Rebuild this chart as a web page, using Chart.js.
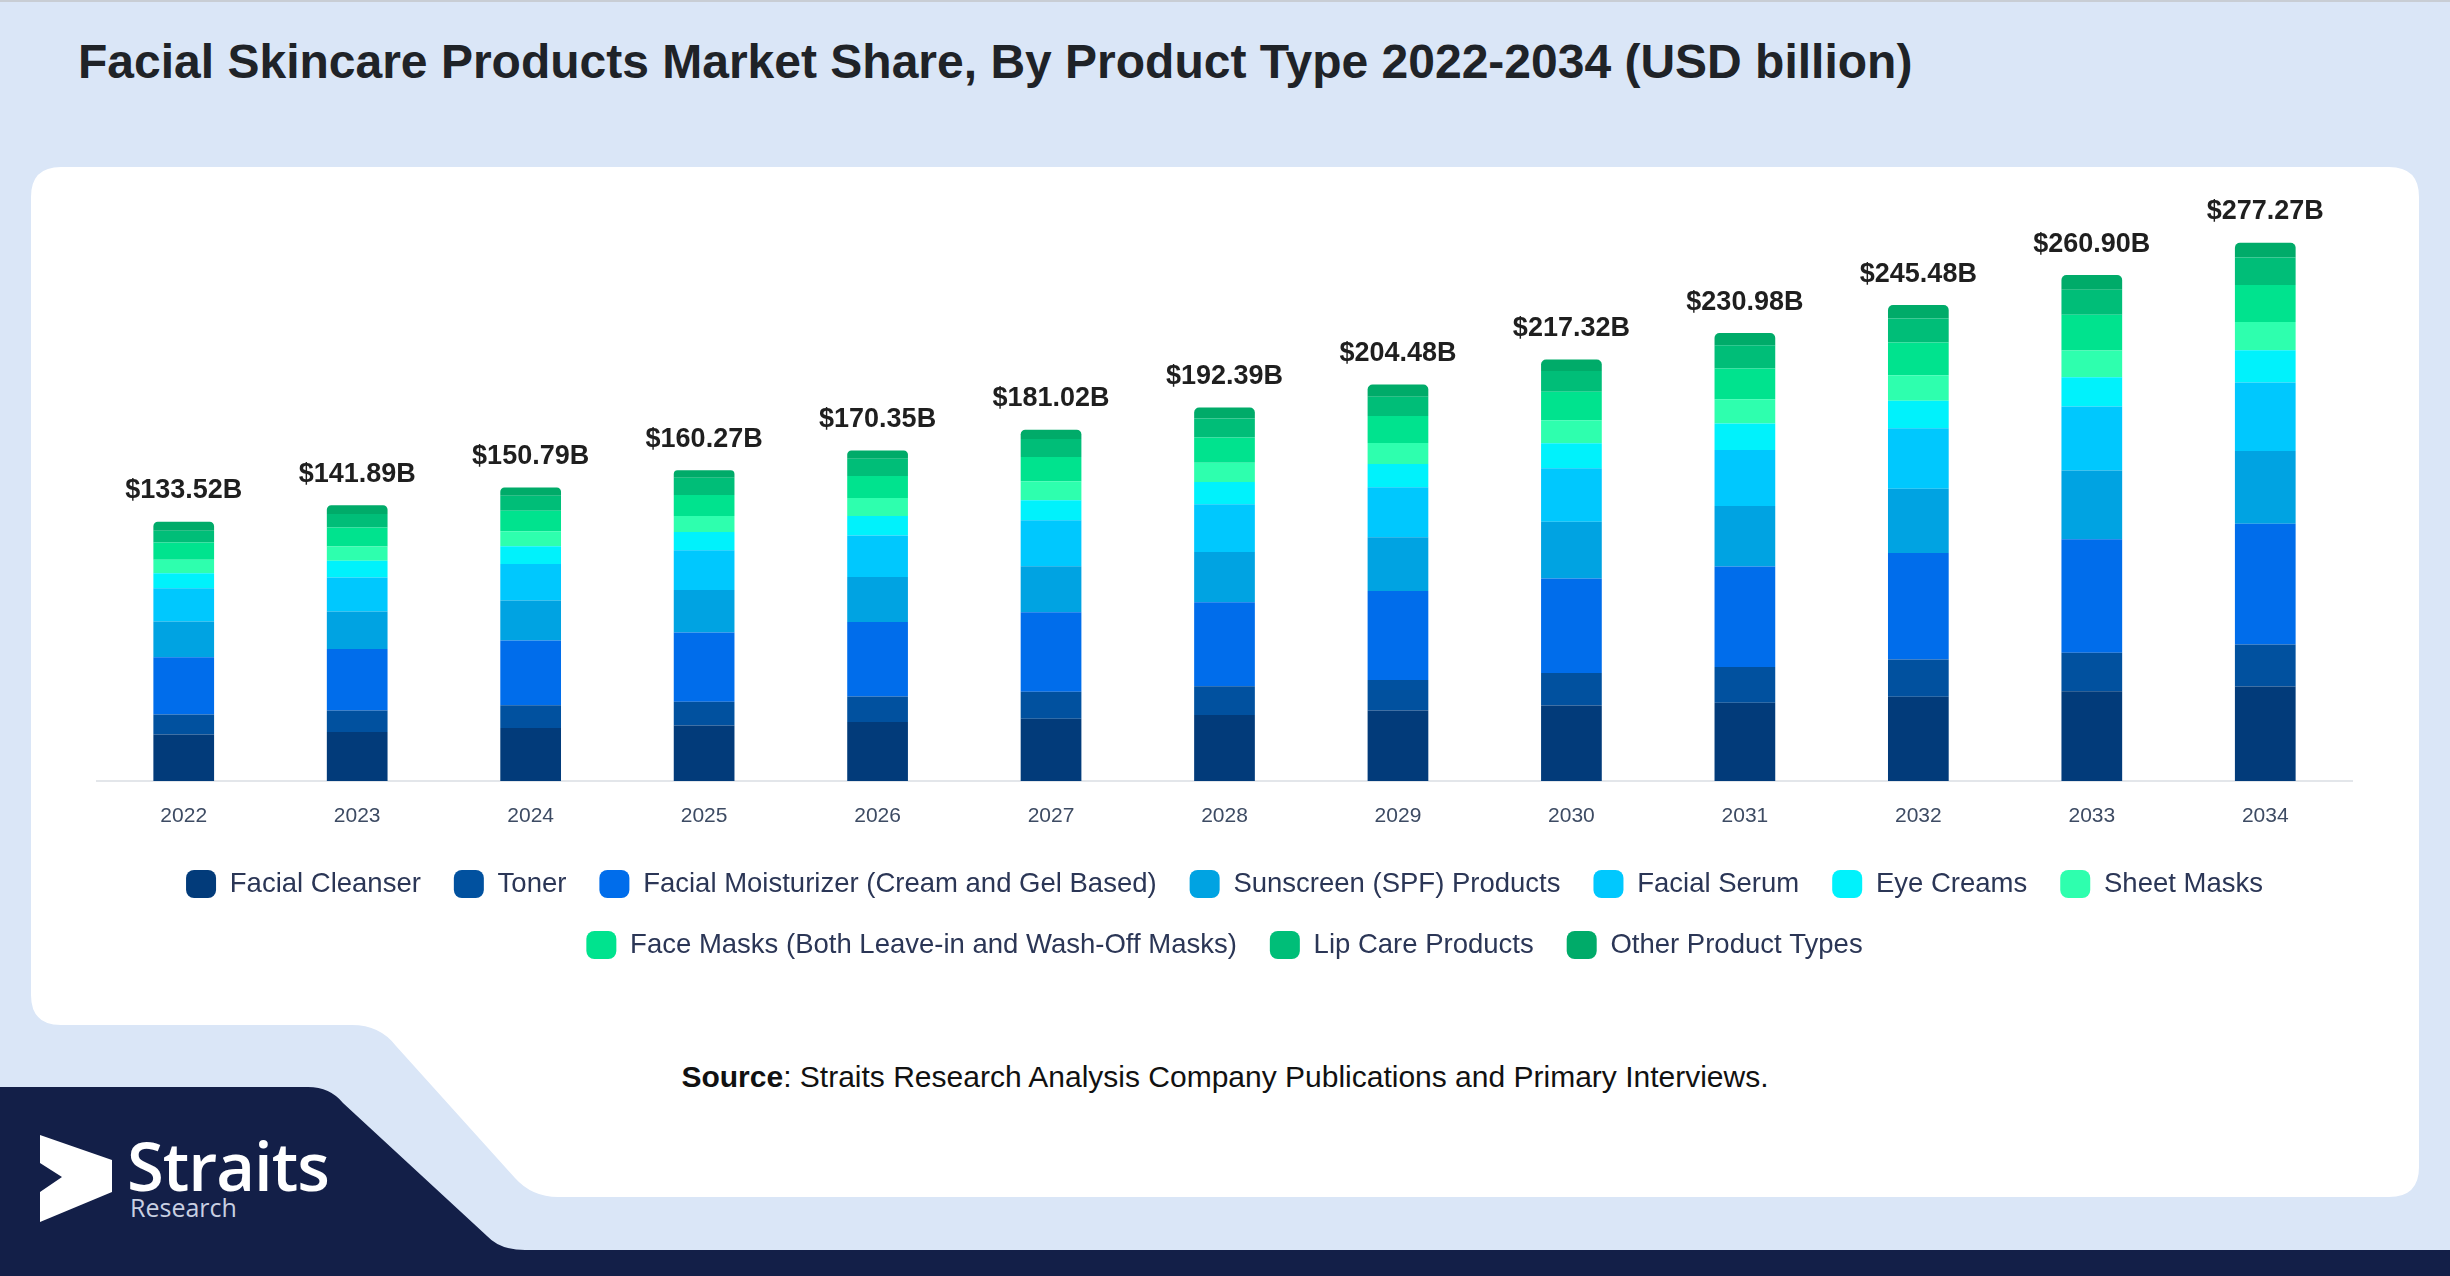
<!DOCTYPE html>
<html>
<head>
<meta charset="utf-8">
<title>Facial Skincare Products Market Share</title>
<script src="https://cdn.jsdelivr.net/npm/chart.js@4.4.0/dist/chart.umd.min.js"></script>
<style>
  html, body { margin: 0; padding: 0; }
  body {
    width: 2450px; height: 1276px; position: relative; overflow: hidden;
    background: #dae6f7;
    font-family: "Liberation Sans", Arial, sans-serif;
  }
  #bg { position: absolute; left: 0; top: 0; }
  #title {
    position: absolute; left: 78px; top: 34px;
    font-size: 48px; font-weight: bold; color: #1f2328; line-height: 56px;
    white-space: nowrap;
  }
  #wrap { position: absolute; left: 31px; top: 167px; width: 2388px; height: 830px; }
  #source {
    position: absolute; left: 0; width: 2450px; top: 1059px; text-align: center;
    font-size: 30px; color: #111; line-height: 36px;
  }
  #logo1 {
    position: absolute; left: 127px; top: 1125px;
    font-family: "Open Sans", sans-serif; font-weight: 600; font-size: 67px;
    color: #fff; line-height: 80px; letter-spacing: -1px;
  }
  #logo2 {
    position: absolute; left: 130px; top: 1192px;
    font-family: "Open Sans", sans-serif; font-size: 25px; color: #c9d0e2; line-height: 30px;
  }
</style>
</head>
<body>
<svg id="bg" width="2450" height="1276" viewBox="0 0 2450 1276">
  <rect x="0" y="0" width="2450" height="2" fill="#c8cdd4"/>
  <path d="M61 167 H2389 Q2419 167 2419 197 V1167 Q2419 1197 2389 1197 H558 Q532 1197 515 1178 L396 1046 Q380 1025 352 1025 H61 Q31 1025 31 995 V197 Q31 167 61 167 Z" fill="#ffffff"/>
  <path d="M0 1087 H308 Q330 1087 343 1103 L487 1236 Q500 1250 525 1250 H2450 V1276 H0 Z" fill="#131f48"/>
  <polygon points="40,1135 112,1160 112,1192 40,1222 40,1192 62,1177 40,1163" fill="#ffffff"/>
</svg>
<div id="title">Facial Skincare Products Market Share, By Product Type 2022-2034 (USD billion)</div>
<div id="wrap"><canvas id="chart" width="2388" height="830"></canvas></div>
<div id="source"><b>Source</b>: Straits Research Analysis Company Publications and Primary Interviews.</div>
<div id="logo1">Straits</div>
<div id="logo2">Research</div>
<script>
"use strict";

// values (USD billion)
const years = ['2022', '2023', '2024', '2025', '2026', '2027', '2028', '2029', '2030', '2031', '2032', '2033', '2034'];
const totals = [133.52, 141.89, 150.79, 160.27, 170.35, 181.02, 192.39, 204.48, 217.32, 230.98, 245.48, 260.90, 277.27];

const facialCleanser = [24.0, 25.2, 27.3, 28.6, 30.4, 32.1, 34.0, 36.3, 38.9, 40.3, 43.4, 46.3, 48.7];
const toner = [10.3, 11.1, 11.7, 12.3, 13.2, 13.9, 14.9, 15.8, 16.8, 18.5, 19.2, 19.8, 21.7];
const moisturizer = [29.5, 31.7, 33.4, 35.7, 38.3, 41.0, 43.3, 45.9, 48.7, 51.8, 54.9, 58.5, 62.2];
const sunscreen = [18.4, 19.4, 20.6, 21.8, 23.2, 23.7, 25.8, 27.7, 29.2, 31.2, 33.1, 35.4, 37.5];
const facialSerum = [17.2, 17.5, 18.9, 20.6, 21.5, 23.7, 24.6, 25.7, 27.6, 28.8, 31.2, 33.1, 35.3];
const eyeCreams = [7.7, 8.6, 9.1, 9.4, 10.0, 10.3, 11.5, 12.0, 12.9, 13.7, 14.2, 15.0, 16.7];
const sheetMasks = [7.0, 7.4, 7.7, 8.2, 9.3, 9.8, 10.0, 10.8, 11.8, 12.5, 13.2, 13.8, 14.5];
const faceMasks = [8.9, 9.8, 10.6, 10.8, 11.3, 12.5, 12.9, 14.0, 14.8, 15.8, 16.8, 18.4, 19.1];
const lipCare = [6.0, 6.9, 7.7, 8.9, 8.9, 9.3, 9.8, 9.9, 10.6, 12.0, 12.4, 12.9, 14.1];
const otherTypes = [4.6, 4.6, 4.3, 3.9, 4.3, 4.8, 5.7, 6.3, 6.0, 6.3, 6.9, 7.6, 7.6];

const seriesNames = [
  'Facial Cleanser', 'Toner', 'Facial Moisturizer (Cream and Gel Based)', 'Sunscreen (SPF) Products',
  'Facial Serum', 'Eye Creams', 'Sheet Masks', 'Face Masks (Both Leave-in and Wash-Off Masks)',
  'Lip Care Products', 'Other Product Types'
];
const seriesValues = [facialCleanser, toner, moisturizer, sunscreen, facialSerum, eyeCreams, sheetMasks, faceMasks, lipCare, otherTypes];
const seriesColors = ['#023b7a', '#01519f', '#006deb', '#00a3e2', '#00c8fe', '#00f2fc', '#2effae', '#00e38e', '#00be78', '#00ab69'];

const FONT = '"Liberation Sans", Arial, sans-serif';

// total above each stack
const totalLabels = {
  id: 'totalLabels',
  afterDatasetsDraw(chart) {
    const ctx = chart.ctx;
    const meta = chart.getDatasetMeta(chart.data.datasets.length - 1);
    ctx.save();
    ctx.font = 'bold 27px ' + FONT;
    ctx.fillStyle = '#1f1f1f';
    ctx.textAlign = 'center';
    ctx.textBaseline = 'middle';
    meta.data.forEach((bar, i) => {
      ctx.fillText('$' + totals[i].toFixed(2) + 'B', bar.x, bar.y - 31);
    });
    ctx.restore();
  }
};

const last = seriesNames.length - 1;
const datasets = seriesNames.map((name, i) => ({
  label: name,
  data: seriesValues[i],
  backgroundColor: seriesColors[i],
  borderWidth: 0,
  borderSkipped: false,
  borderRadius: i === last ? {topLeft: 5, topRight: 5, bottomLeft: 0, bottomRight: 0} : 0,
  categoryPercentage: 1,
  barPercentage: 0.35
}));

new Chart(document.getElementById('chart'), {
  type: 'bar',
  data: { labels: years, datasets: datasets },
  options: {
    responsive: false,
    animation: false,
    devicePixelRatio: 1,
    layout: { padding: { top: 32, left: 66, right: 67, bottom: 28 } },
    scales: {
      x: {
        stacked: true,
        grid: { display: false, drawTicks: false },
        border: { display: true, color: '#e3e6ea', width: 2 },
        ticks: { color: '#3d4b63', font: { family: FONT, size: 21 }, padding: 23 },
        afterFit(scale) { scale.height = 56; }
      },
      y: {
        stacked: true,
        display: false,
        min: 0,
        max: 300
      }
    },
    plugins: {
      legend: {
        position: 'bottom',
        labels: {
          boxWidth: 30,
          boxHeight: 28,
          useBorderRadius: true,
          borderRadius: 8,
          padding: 33,
          color: '#2b3656',
          font: { family: FONT, size: 27.5 }
        }
      },
      tooltip: { enabled: false }
    }
  },
  plugins: [totalLabels]
});
</script>
</body>
</html>
